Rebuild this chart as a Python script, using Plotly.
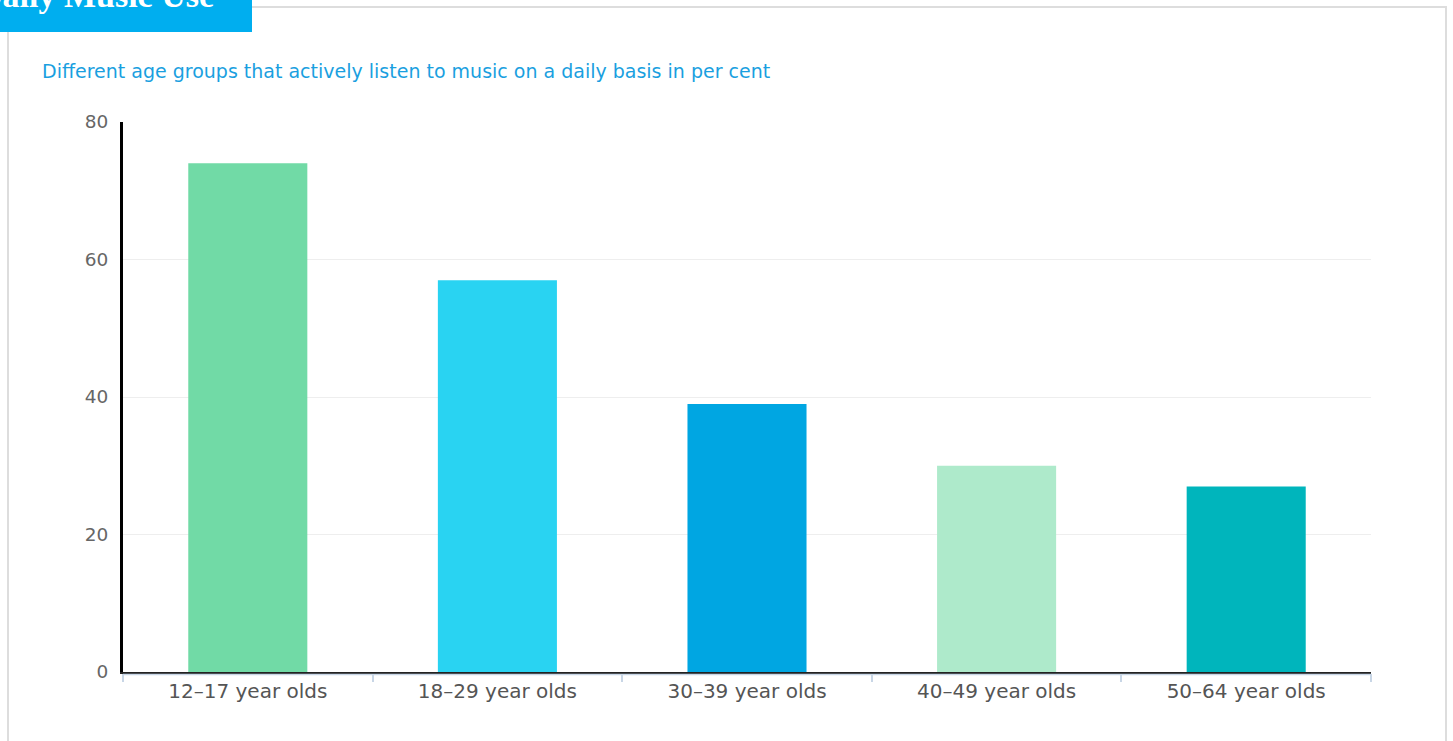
import plotly.graph_objects as go

# Chart data
age_groups = ["12–17 year olds", "18–29 year olds", "30–39 year olds",
              "40–49 year olds", "50–64 year olds"]
daily_listeners_pct = [74, 57, 39, 30, 27]
bar_colors = ["#71DAA6", "#29D3F2", "#00A6E2", "#AEEACB", "#00B5BC"]

title_text = "Daily Music Use"
subtitle_text = "Different age groups that actively listen to music on a daily basis in per cent"

W, H = 1453, 741
M_L, M_R, M_T, M_B = 123, 82, 122, 69
PLOT_W = W - M_L - M_R
PLOT_H = H - M_T - M_B


def px_x(p):
    """Convert a pixel x position on the page into paper coordinates."""
    return (p - M_L) / PLOT_W


def px_y(p):
    """Convert a pixel y position (from the top) into paper coordinates."""
    return (H - M_B - p) / PLOT_H


fig = go.Figure(
    go.Bar(
        x=age_groups,
        y=daily_listeners_pct,
        marker=dict(color=bar_colors, line=dict(width=0)),
        width=0.477,
        hoverinfo="x+y",
    )
)

fig.update_layout(
    width=W,
    height=H,
    margin=dict(l=M_L, r=M_R, t=M_T, b=M_B),
    paper_bgcolor="white",
    plot_bgcolor="white",
    showlegend=False,
    font=dict(family="DejaVu Sans", color="#555555"),
    xaxis=dict(
        type="category",
        tickson="boundaries",
        ticks="outside",
        ticklen=8,
        tickwidth=1.5,
        tickcolor="#C8D6E6",
        showline=True,
        linecolor="#222222",
        linewidth=2,
        showgrid=False,
        tickfont=dict(size=20, color="#555555"),
        fixedrange=True,
    ),
    yaxis=dict(
        range=[0, 80],
        dtick=20,
        showline=True,
        linecolor="#000000",
        linewidth=3,
        showgrid=True,
        gridcolor="#EEEEEE",
        gridwidth=1,
        zeroline=False,
        ticks="",
        ticklabelstandoff=8,
        tickfont=dict(size=18.5, color="#666666"),
        fixedrange=True,
    ),
    shapes=[
        # outer frame of the card
        dict(type="rect", xref="paper", yref="paper",
             x0=px_x(8), x1=px_x(1446), y0=px_y(780), y1=px_y(7),
             line=dict(color="#DDDDDD", width=2), fillcolor="rgba(0,0,0,0)",
             layer="below"),
        # light underline beneath the category axis
        dict(type="line", xref="paper", yref="paper",
             x0=0, x1=1, y0=px_y(674.5), y1=px_y(674.5),
             line=dict(color="#C8D6E6", width=1.5)),
        # title tab
        dict(type="rect", xref="paper", yref="paper",
             x0=px_x(0), x1=px_x(252), y0=px_y(32), y1=px_y(-5),
             line=dict(width=0), fillcolor="#00AEEF", layer="above"),
    ],
    annotations=[
        dict(text=f"<b>{title_text}</b>", xref="paper", yref="paper",
             x=px_x(216), y=px_y(16), xanchor="right", yanchor="bottom",
             showarrow=False,
             font=dict(family="Liberation Serif", size=34, color="white")),
        dict(text=subtitle_text, xref="paper", yref="paper",
             x=px_x(40), y=px_y(71), xanchor="left", yanchor="middle",
             showarrow=False,
             font=dict(family="DejaVu Sans", size=19, color="#1A9FE0")),
    ],
)

fig.write_html("out.html")
